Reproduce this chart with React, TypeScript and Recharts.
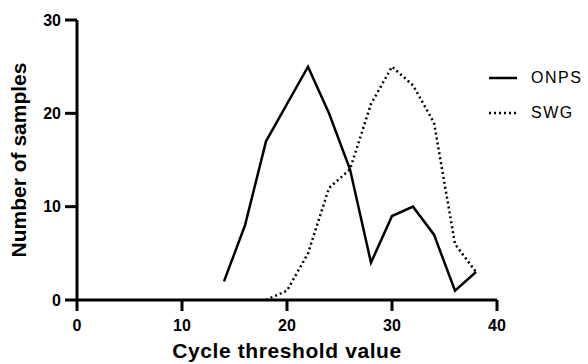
import React from "react";
import { LineChart, Line, XAxis, YAxis, Label } from "recharts";

const cycleValues = [14, 16, 18, 20, 22, 24, 26, 28, 30, 32, 34, 36, 38];
const onpsCounts = [2, 8, 17, 21, 25, 20, 14, 4, 9, 10, 7, 1, 3];
const swgCounts = [null, null, 0, 1, 5, 12, 14, 21, 25, 23, 19, 6, 3];
const xTicks = [0, 10, 20, 30, 40];
const yTicks = [0, 10, 20, 30];

const data = cycleValues.map((ct, i) => ({
  ct,
  onps: onpsCounts[i],
  swg: swgCounts[i],
}));

const FONT = "'Liberation Sans', Arial, sans-serif";
const axisStroke = { stroke: "#000", strokeWidth: 3 };
const tickStyle = { fill: "#000", fontSize: 16, fontWeight: "bold", fontFamily: FONT };

// drop the default body margin so the chart sits at the page corner
if (typeof document !== "undefined") document.body.style.margin = "0";

const LegendBox: React.FC = () => (
  <div style={{ position: "absolute", left: 489, top: 60, fontFamily: FONT, fontSize: 16, letterSpacing: 1.5 }}>
    {[
      { name: "ONPS", dash: undefined },
      { name: "SWG", dash: "2 3" },
    ].map((item) => (
      <div key={item.name} style={{ display: "flex", alignItems: "center", height: 35 }}>
        <svg width={29} height={8}>
          <line x1={0} y1={4} x2={28} y2={4} stroke="#000" strokeWidth={2.5} strokeDasharray={item.dash} />
        </svg>
        <span style={{ marginLeft: 13 }}>{item.name}</span>
      </div>
    ))}
  </div>
);

const App: React.FC = () => {
  return (
    <div style={{ position: "relative", width: 588, height: 364 }}>
      <LineChart width={588} height={364} data={data} margin={{ top: 20, right: 91, left: 0, bottom: 0 }}>
        <XAxis
          dataKey="ct"
          type="number"
          domain={[0, 40]}
          ticks={xTicks}
          axisLine={axisStroke}
          tickLine={axisStroke}
          tickSize={11}
          tickMargin={9}
          height={64}
          tick={tickStyle}
        >
          <Label
            value="Cycle threshold value"
            position="insideBottom"
            offset={6}
            style={{ fill: "#000", fontSize: 21, fontWeight: "bold", fontFamily: FONT, letterSpacing: 0.6 }}
          />
        </XAxis>
        <YAxis
          type="number"
          domain={[0, 30]}
          ticks={yTicks}
          width={77}
          axisLine={axisStroke}
          tickLine={axisStroke}
          tickSize={12}
          tickMargin={4}
          tick={tickStyle}
        >
          <Label
            value="Number of samples"
            angle={-90}
            position="insideLeft"
            offset={19}
            style={{ textAnchor: "middle", fill: "#000", fontSize: 21, fontWeight: "bold", fontFamily: FONT }}
          />
        </YAxis>
        <Line
          isAnimationActive={false}
          type="linear"
          dataKey="onps"
          stroke="#000"
          strokeWidth={2.5}
          dot={false}
        />
        <Line
          isAnimationActive={false}
          type="linear"
          dataKey="swg"
          stroke="#000"
          strokeWidth={2.5}
          strokeDasharray="2 3"
          dot={false}
        />
      </LineChart>
      <LegendBox />
    </div>
  );
};

export default App;
